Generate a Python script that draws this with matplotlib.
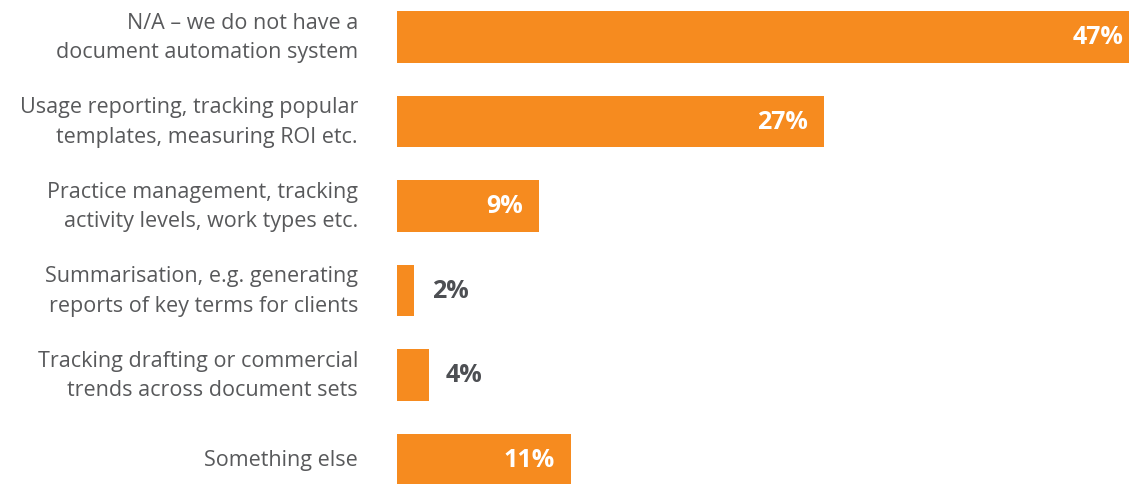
import matplotlib.pyplot as plt

# data
categories = [
    'N/A – we do not have a\ndocument automation system',
    'Usage reporting, tracking popular\ntemplates, measuring ROI etc.',
    'Practice management, tracking\nactivity levels, work types etc.',
    'Summarisation, e.g. generating\nreports of key terms for clients',
    'Tracking drafting or commercial\ntrends across document sets',
    'Something else',
]
values = [47, 27, 9, 2, 4, 11]            # printed labels
bar_lengths = [47, 27, 9, 1.1, 2, 11]      # bar lengths as drawn

orange = '#F68B1F'
dark = '#4D4F53'
grey = '#58595B'

plt.rcParams['font.family'] = ['Open Sans', 'DejaVu Sans']

fig = plt.figure(figsize=(11.29, 4.85), dpi=100)
ax = fig.add_axes([397 / 1129, 0, 732 / 1129, 1])

ypos = list(range(len(categories)))
ax.barh(ypos, bar_lengths, height=0.615, color=orange)

ax.set_xlim(0, 732 / 15.8)
ax.set_ylim(5 + 24.5 / 84.5, -38 / 84.5)
ax.axis('off')

for y, cat in zip(ypos, categories):
    ax.annotate(cat, xy=(0, y), xytext=(-28, 0), textcoords='offset points',
                ha='right', va='center', fontsize=15.5, color=grey,
                linespacing=1.55, annotation_clip=False)

for y, v, w in zip(ypos, values, bar_lengths):
    if w > 5:
        ax.annotate(f'{v}%', xy=(w, y), xytext=(-11.5, 0), textcoords='offset points',
                    ha='right', va='center', fontsize=18, fontweight='bold',
                    color='white', annotation_clip=False)
    else:
        ax.annotate(f'{v}%', xy=(w, y), xytext=(12.5, 0), textcoords='offset points',
                    ha='left', va='center', fontsize=18, fontweight='bold',
                    color=dark, annotation_clip=False)

fig.savefig('out.png', dpi=100)
